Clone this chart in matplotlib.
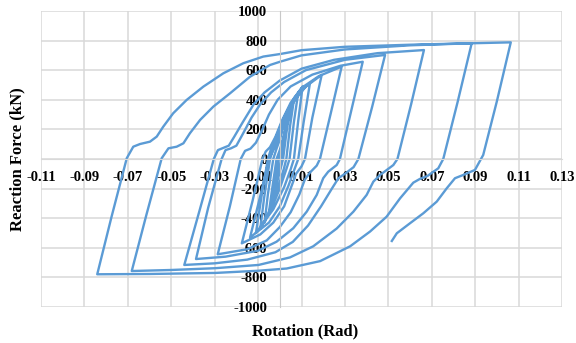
"""
Hysteresis curve: reaction force vs rotation
"""

import numpy as np
import matplotlib.pyplot as plt

# each cycle: up branch to positive peak, then down branch to negative peak
cyc1_rot = [0.0, 0.001, 0.002, 0.003, 0.002, 0.0008, -0.001, -0.003]
cyc1_kn = [0, 70, 150, 230, 130, 0, -110, -250]

cyc2_rot = [-0.0018, -0.0005, 0.0008, 0.0025, 0.0045,
            0.003, 0.0015, 0.0003, -0.002, -0.005]
cyc2_kn = [-120, 0, 80, 190, 320, 170, 0, -70, -200, -360]

cyc3_rot = [-0.0035, -0.0015, 0.0, 0.0015, 0.004, 0.0065,
            0.0048, 0.003, 0.0018, -0.001, -0.004, -0.007]
cyc3_kn = [-200, 0, 60, 140, 270, 400, 230, 0, -70, -200, -320, -430]

cyc4_rot = [-0.0055, -0.003, -0.0015, 0.0, 0.003, 0.0085,
            0.0065, 0.0045, 0.003, 0.0, -0.004, -0.009]
cyc4_kn = [-240, 0, 70, 130, 280, 450, 250, 0, -70, -200, -340, -470]

cyc5_rot = [-0.0072, -0.0045, -0.003, -0.001, 0.003, 0.0105,
            0.0085, 0.0065, 0.005, 0.002, -0.003, -0.011]
cyc5_kn = [-260, 0, 70, 140, 310, 490, 260, 0, -70, -190, -340, -500]

cyc6_rot = [-0.0085, -0.0055, -0.004, -0.002, 0.002, 0.007, 0.0139,
            0.011, 0.0085, 0.007, 0.004, 0.0, -0.005, -0.0137]
cyc6_kn = [-260, 0, 70, 140, 280, 420, 513,
           250, 0, -60, -180, -320, -430, -530]

cyc7_rot = [-0.009, -0.005, -0.003, -0.001, 0.002, 0.006, 0.012, 0.0193,
            0.015, 0.0116, 0.01, 0.0075, 0.005, 0.002, -0.003, -0.009, -0.0175]
cyc7_kn = [-250, 0, 60, 120, 250, 380, 490, 568,
           280, 0, -50, -100, -200, -320, -430, -510, -570]

cyc8_rot = [-0.0125, -0.008, -0.0065, -0.0045, -0.002, 0.001, 0.005, 0.01,
            0.018, 0.0285, 0.0235, 0.0185, 0.017, 0.014, 0.0115, 0.009,
            0.005, 0.0, -0.006, -0.015, -0.0286]
cyc8_kn = [-280, 0, 50, 80, 150, 260, 380, 480, 560, 624,
           310, 0, -45, -90, -140, -240, -360, -460, -550, -610, -644]

cyc9_rot = [-0.023, -0.018, -0.016, -0.0135, -0.011, -0.008, -0.005,
            -0.001, 0.005, 0.015, 0.028, 0.0382,
            0.033, 0.0277, 0.0262, 0.0223, 0.02, 0.017, 0.0124, 0.0062,
            -0.0015, -0.01, -0.025, -0.0386]
cyc9_kn = [-320, 0, 55, 70, 110, 200, 300, 400, 490, 570, 630, 657,
           330, 0, -41, -86, -130, -243, -356, -468, -559, -620, -660, -676]

cyc10_rot = [-0.033, -0.0268, -0.025, -0.0225, -0.02, -0.017, -0.013,
             -0.009, -0.004, 0.002, 0.012, 0.03, 0.0485,
             0.0425, 0.0362, 0.034, 0.03, 0.027, 0.024, 0.019, 0.013,
             0.006, -0.002, -0.015, -0.03, -0.044]
cyc10_kn = [-330, 0, 60, 72, 90, 170, 280, 370, 450, 520, 600, 670, 703,
            350, 0, -55, -100, -130, -200, -320, -450, -560, -630, -680,
            -705, -716]

cyc11_rot = [-0.037, -0.0304, -0.0285, -0.026, -0.0235, -0.021, -0.017,
             -0.012, -0.007, 0.0, 0.01, 0.025, 0.045, 0.0664,
             0.0605, 0.0542, 0.0523, 0.0462, 0.0431, 0.04, 0.0339, 0.0262,
             0.0154, 0.0047, -0.0098, -0.0298, -0.05, -0.0682]
cyc11_kn = [-350, 0, 60, 75, 90, 150, 250, 370, 450, 530, 610, 670, 715, 736,
            370, 0, -41, -108, -153, -243, -356, -470, -590, -665, -716,
            -738, -750, -757]

cyc12_rot = [-0.0615, -0.0544, -0.0513, -0.0475, -0.0444, -0.0414, -0.0367,
             -0.0306, -0.0229, -0.0137, -0.0045, 0.0001, 0.01, 0.03, 0.06,
             0.0884,
             0.082, 0.0753, 0.073, 0.068, 0.0645, 0.0615, 0.0554, 0.0492,
             0.0416, 0.0324, 0.0186, 0.0032, -0.0098, -0.0298, -0.06, -0.0841]
cyc12_kn = [-380, 5, 72, 83, 106, 174, 264, 354, 444, 556, 635, 657, 700,
            740, 768, 782,
            390, 0, -63, -115, -135, -160, -266, -390, -490, -590, -690,
            -740, -755, -770, -777, -779]

cyc13_rot = [-0.0775, -0.0705, -0.0675, -0.0644, -0.0598, -0.0567, -0.0537,
             -0.0491, -0.0429, -0.0352, -0.026, -0.0168, -0.0076, 0.0001,
             0.01, 0.03, 0.06, 0.09, 0.1064,
             0.1, 0.0937, 0.0899, 0.0845, 0.0807, 0.0769, 0.0723, 0.0661,
             0.06, 0.0539, 0.0516]
cyc13_kn = [-390, 5, 83, 101, 117, 151, 218, 309, 399, 489, 579, 647, 692,
            709, 735, 758, 772, 782, 788,
            390, 27, -74, -108, -130, -198, -288, -367, -434, -502, -554]

rot_parts = [cyc1_rot, cyc2_rot, cyc3_rot, cyc4_rot, cyc5_rot, cyc6_rot,
             cyc7_rot, cyc8_rot, cyc9_rot, cyc10_rot, cyc11_rot, cyc12_rot,
             cyc13_rot]
kn_parts = [cyc1_kn, cyc2_kn, cyc3_kn, cyc4_kn, cyc5_kn, cyc6_kn,
            cyc7_kn, cyc8_kn, cyc9_kn, cyc10_kn, cyc11_kn, cyc12_kn,
            cyc13_kn]

rotation = np.concatenate(rot_parts)
force = np.concatenate(kn_parts)

x_ticks = np.round(np.arange(-0.11, 0.1301, 0.02), 2)
y_ticks = np.arange(-1000, 1001, 200)

plt.rcParams['font.family'] = ['Liberation Serif', 'DejaVu Serif']
plt.rcParams['font.weight'] = 'bold'

fig = plt.figure(figsize=(5.76, 3.43), dpi=100)
ax = fig.add_axes([0.0712, 0.105, 0.9045, 0.863])

ax.plot(rotation, force, color='#5B9BD5', lw=1.7, solid_joinstyle='round')

ax.set_xlim(-0.11, 0.13)
ax.set_ylim(-1000, 1000)
ax.set_xticks(x_ticks)
ax.set_yticks(y_ticks)
ax.set_xticklabels([f'{t:.2f}' for t in x_ticks])
ax.set_yticklabels([str(t) for t in y_ticks])
ax.grid(True, color='#D9D9D9', lw=1.1)
ax.set_axisbelow(True)

for side in ['top', 'right']:
    ax.spines[side].set_visible(False)
ax.spines['left'].set_position(('data', 0))
ax.spines['bottom'].set_position(('data', 0))
ax.spines['left'].set_color('#C8C8C8')
ax.spines['bottom'].set_color('#D9D9D9')
ax.tick_params(length=0, labelsize=10.5, pad=9)

fig.text(0.53, 0.035, 'Rotation (Rad)', ha='center', va='center',
         fontsize=12, fontweight='bold')
fig.text(0.03, 0.535, 'Reaction Force (kN)', ha='center', va='center',
         rotation=90, fontsize=12, fontweight='bold')

fig.savefig('out.png', dpi=100)
